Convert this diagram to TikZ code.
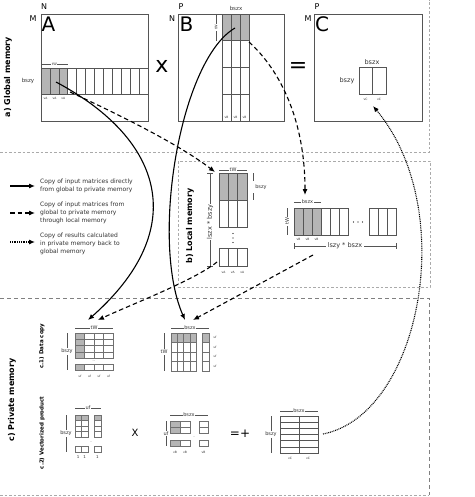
\documentclass[tikz,border=0pt]{standalone}
\usepackage{fontspec}
\setmainfont{DejaVu Sans}
\usetikzlibrary{arrows.meta}
\definecolor{gline}{HTML}{555555}
\definecolor{lgline}{HTML}{707070}
\definecolor{shd}{HTML}{B5B5B5}
\definecolor{reg}{HTML}{AAAAAA}
\definecolor{txt}{HTML}{333333}
\newcommand{\mygrid}[7][]{%
  \foreach \ii in {1,...,#4}{\foreach \jj in {1,...,#5}{%
    \draw[#1] ({#2+(\ii-1)*#6},{#3+(\jj-1)*#7}) rectangle ++(#6,#7);}}}
\tikzset{
  mat/.style={draw=gline, line width=0.7pt},
  cellg/.style={draw=gline, line width=0.6pt},
  celll/.style={draw=lgline, line width=0.5pt},
  region/.style={draw=reg, line width=0.7pt, dash pattern=on 2.5pt off 2pt},
  region2/.style={draw=gray, line width=0.8pt, dash pattern=on 4pt off 3pt},
  conn/.style={line width=1.1pt, -{Latex[length=6pt,width=5pt]}},
  solidc/.style={conn},
  dashc/.style={conn, dash pattern=on 4.5pt off 3pt},
  dotc/.style={conn, dash pattern=on 0.9pt off 0.9pt},
  dimline/.style={draw=gline, line width=0.5pt},
  big/.style={inner sep=0pt, font=\fontsize{20}{20}\selectfont},
  mid/.style={inner sep=0pt, font=\fontsize{8}{8}\selectfont},
  lbl/.style={inner sep=0pt, text=txt, font=\fontsize{5.5}{6}\selectfont},
  lblm/.style={inner sep=0pt, text=txt, font=\fontsize{6.5}{7}\selectfont},
  tiny/.style={inner sep=0pt, text=txt, font=\fontsize{3}{3.5}\selectfont},
  dimlab/.style={fill=white, inner sep=0.8pt, text=txt, font=\fontsize{5}{6}\selectfont},
  dimlabt/.style={fill=white, inner sep=0.6pt, text=txt, font=\fontsize{3.5}{4}\selectfont},
  sect/.style={inner sep=0pt, rotate=90, font=\bfseries\fontsize{8}{9}\selectfont},
  subsect/.style={inner sep=0pt, rotate=90, font=\bfseries\fontsize{5.5}{6}\selectfont},
  legtext/.style={inner sep=0pt, anchor=west, align=left, text=txt, font=\fontsize{6}{8}\selectfont},
}
\begin{document}
\begin{tikzpicture}[x=1pt,y=-1pt]
\useasboundingbox (0,0) rectangle (474,497);
\fill[white] (0,0) rectangle (474,497);
% region borders
\draw[region] (0,152) -- (429,152) -- (429,0);
\draw[region] (178,161) rectangle (430,287);
\draw[region2] (0,298) -- (429,298) -- (429,495);
\draw[region] (0,495) -- (429,495);

% section labels
\node[sect] (secA) at (8,77) {a) Global memory};
\node[sect] (secB) at (190,226) {b) Local memory};
\node[sect] (secC) at (12,400) {c) Private memory};
\node[subsect] (secC1) at (42,346) {c.1) Data copy};
\node[subsect] (secC2) at (42,433) {c.2) Vectorized product};

% ---------- Global A ----------
\draw[mat] (41,14) rectangle (148,121);
\fill[shd] (41,68) rectangle (67.75,94);
\mygrid[cellg]{41}{68}{12}{1}{8.9167}{26}
\node[mid] (NA) at (44,7) {N};
\node[mid] (MA) at (33,19) {M};
\node[big] (nameA) at (48.5,24.5) {A};
\draw[dimline] (41,64) -- (67.75,64) node[dimlabt, midway] (tWA) {tW};
\node[lbl] (bszyA) at (28,81) {bszy};
\foreach \i in {0,1,2} {\node[tiny] (vA\i) at ({45.5+\i*8.92},98) {vA};}
\node[inner sep=0pt, font=\fontsize{22}{22}\selectfont] (times1) at (162,66) {x};

% ---------- Global B ----------
\draw[mat] (178,14) rectangle (284,121);
\fill[shd] (222,14) rectangle (249,40.75);
\mygrid[cellg]{222}{14}{3}{4}{9}{26.75}
\node[mid] (PB) at (181,7) {P};
\node[mid] (NB) at (172,19) {N};
\node[big] (nameB) at (186.5,24.5) {B};
\node[lbl] (bszxB) at (236,8) {bszx};
\draw[dimline] (216,14) -- (216,41) node[dimlabt, midway, rotate=90] (tWB) {tW};
\foreach \i in {0,1,2} {\node[tiny] (vB\i) at ({226.5+\i*9},117) {vB};}
\node[inner sep=0pt, font=\fontsize{22}{22}\selectfont] (eq1) at (298,68) {=};

% ---------- Global C ----------
\draw[mat] (314,14) rectangle (422,121);
\draw[cellg] (359,67) rectangle (386,94);
\draw[cellg] (372.5,67) -- (372.5,94);
\node[mid] (PC) at (317,7) {P};
\node[mid] (MC) at (308,19) {M};
\node[big] (nameC) at (322,24.5) {C};
\node[lblm] (bszxC) at (372,62) {bszx};
\node[lblm] (bszyC) at (347,81) {bszy};
\node[tiny] (vC0) at (365.5,99) {vC};
\node[tiny] (vC1) at (379,99) {vC};

% ---------- Legend ----------
\coordinate (ls0) at (10,186); \coordinate (ls1) at (35,186);
\coordinate (ld0) at (10,213); \coordinate (ld1) at (35,213);
\coordinate (lo0) at (10,242); \coordinate (lo1) at (35,242);
\draw[solidc] (ls0) -- (ls1);
\draw[dashc] (ld0) -- (ld1);
\draw[dotc] (lo0) -- (lo1);
\node[legtext] (leg1) at (40,186) {Copy of input matrices directly\\from global to private memory};
\node[legtext] (leg2) at (40,212.5) {Copy of input matrices from\\global to private memory\\through local memory};
\node[legtext] (leg3) at (40,244) {Copy of results calculated\\in private memory back to\\global memory};

% ---------- Local memory: A stack ----------
\fill[shd] (219,173) rectangle (247,200);
\mygrid[cellg]{219}{173}{3}{2}{9.333}{27}
\mygrid[cellg]{219}{248}{3}{1}{9.333}{18}
\foreach \k in {0,1,2} {\fill[black] (233,{233.5+\k*4.5}) circle (0.6pt);}
\draw[dimline] (219,170) -- (247,170) node[dimlab, midway] (tWL) {tW};
\draw[dimline] (253,173) -- (253,181);
\draw[dimline] (253,193) -- (253,200);
\node[dimlab, fill=none] (bszyL) at (261,187) {bszy};
\draw[dimline] (210,173) -- (210,266);
\draw[dimline] (207,173) -- (213,173);
\draw[dimline] (207,266) -- (213,266);
\node[fill=white, inner sep=1pt, rotate=90, text=txt, font=\fontsize{6.5}{7}\selectfont] (lszxL) at (210,222) {lszx * bszy};
\foreach \i in {0,1,2} {\node[tiny] (vAL\i) at ({223.5+\i*9.33},272) {vA};}

% ---------- Local memory: B row ----------
\fill[shd] (294,208) rectangle (321,235);
\mygrid[cellg]{294}{208}{6}{1}{9}{27}
\mygrid[cellg]{369}{208}{3}{1}{9}{27}
\foreach \k in {0,1,2} {\fill[black] ({353.5+\k*4.5},222) circle (0.6pt);}
\draw[dimline] (294,202) -- (321,202) node[dimlab, midway] (bszxL) {bszx};
\draw[dimline] (287,208) -- (287,235) node[dimlab, midway, rotate=90] (tWL2) {tW};
\foreach \i in {0,1,2} {\node[tiny] (vBL\i) at ({298.5+\i*9},239) {vB};}
\draw[dimline, line width=0.8pt] (294,246) -- (396,246);
\draw[dimline, line width=0.8pt] (294,243) -- (294,249);
\draw[dimline, line width=0.8pt] (396,243) -- (396,249);
\node[fill=white, inner sep=1.5pt, text=txt, font=\fontsize{6.5}{7}\selectfont] (lszyL) at (345,246) {lszy * bszx};

% ---------- Private: data copy A ----------
\fill[shd] (75,333) rectangle (84.5,358);
\fill[shd] (75,364) rectangle (84.5,370);
\mygrid[celll]{75}{333}{4}{4}{9.5}{6.25}
\mygrid[celll]{75}{364}{4}{1}{9.5}{6}
\node[tiny] (dotsPA) at (94,361) {...};
\draw[dimline] (75,328) -- (113,328) node[dimlab, midway] (tWPA) {tW};
\draw[dimline] (67,333) -- (67,370) node[dimlab, midway] (bszyPA) {bszy};
\foreach \i in {0,1,2,3} {\node[tiny] (ufPA\i) at ({80+\i*9.5},376) {uf};}

% ---------- Private: data copy B ----------
\fill[shd] (171,333) rectangle (196,342.5);
\fill[shd] (202,333) rectangle (209,342.5);
\mygrid[celll]{171}{333}{4}{4}{6.25}{9.5}
\mygrid[celll]{202}{333}{1}{4}{7}{9.5}
\draw[dimline] (171,328) -- (209,328) node[dimlab, midway] (bszxPB) {bszx};
\draw[dimline] (164,333) -- (164,371) node[dimlab, midway] (tWPB) {tW};
\foreach \j in {0,1,2,3} {\node[tiny] (ufPB\j) at (215,{337.75+\j*9.5}) {uf};}

% ---------- Private: vectorized A ----------
\fill[shd] (75,415) rectangle (88,420.5);
\fill[shd] (94,415) rectangle (101,420.5);
\mygrid[celll]{75}{415}{2}{4}{6.5}{5.5}
\mygrid[celll]{94}{415}{1}{4}{7}{5.5}
\mygrid[celll]{75}{446}{2}{1}{6.5}{6}
\mygrid[celll]{94}{446}{1}{1}{7}{6}
\node[tiny] (dotsVA) at (91,442) {..};
\draw[dimline] (75,408) -- (101,408) node[dimlab, midway] (ufVA) {uf};
\draw[dimline] (66,415) -- (66,452) node[dimlab, midway] (bszyVA) {bszy};
\node[tiny, font=\fontsize{4}{4}\selectfont] (oneA) at (78.25,457) {1};
\node[tiny, font=\fontsize{4}{4}\selectfont] (oneB) at (84.75,457) {1};
\node[tiny, font=\fontsize{4}{4}\selectfont] (oneC) at (97.5,457) {1};
\node[inner sep=0pt, font=\fontsize{10}{10}\selectfont] (times2) at (135,433) {X};

% ---------- Private: vectorized B ----------
\fill[shd] (170,421) rectangle (180,433);
\fill[shd] (170,440) rectangle (180,446);
\mygrid[celll]{170}{421}{2}{2}{10}{6}
\mygrid[celll]{199}{421}{1}{2}{9}{6}
\mygrid[celll]{170}{440}{2}{1}{10}{6}
\mygrid[celll]{199}{440}{1}{1}{9}{6}
\node[tiny] (dotsVB) at (194,437) {..};
\draw[dimline] (170,415) -- (208,415) node[dimlab, midway] (bszxVB) {bszx};
\draw[dimline] (166,421) -- (166,446) node[dimlab, midway] (ufVB) {uf};
\node[tiny] (vBV0) at (175,452) {vB};
\node[tiny] (vBV1) at (185,452) {vB};
\node[tiny] (vBV2) at (203.5,452) {vB};
\node[inner sep=0pt, font=\fontsize{12}{12}\selectfont] (eqplus) at (240,434) {=+};

% ---------- Private: vectorized C ----------
\mygrid[cellg]{280}{416}{2}{6}{19}{6.1667}
\draw[dimline] (280,411) -- (318,411) node[dimlab, midway] (bszxVC) {bszx};
\draw[dimline] (271,416) -- (271,453) node[dimlab, midway] (bszyVC) {bszy};
\node[tiny] (vCV0) at (290,458) {vC};
\node[tiny] (vCV1) at (308,458) {vC};

% ---------- Connectors ----------
\coordinate (sA0) at (56,82);   \coordinate (sA1) at (88,320);
\coordinate (sB0) at (235,28);  \coordinate (sB1) at (185,320);
\coordinate (dA0) at (70,92);   \coordinate (dA1) at (215,172);
\coordinate (dB0) at (249,42);  \coordinate (dB1) at (305,195);
\coordinate (dL0) at (217,262); \coordinate (dL1) at (98,320);
\coordinate (dR0) at (313,255); \coordinate (dR1) at (193,320);
\coordinate (oC0) at (323,434); \coordinate (oC1) at (373,106);
\draw[solidc] (sA0) .. controls (165,140) and (190,230) .. (sA1);
\draw[solidc] (sB0) .. controls (180,60) and (150,240) .. (sB1);
\draw[dashc] (dA0) .. controls (120,115) and (180,145) .. (dA1);
\draw[dashc] (dB0) .. controls (280,70) and (305,120) .. (dB1);
\draw[dashc] (dL0) .. controls (195,280) and (130,305) .. (dL1);
\draw[dashc] (dR0) -- (dR1);
\draw[dotc] (oC0) .. controls (420,415) and (460,210) .. (oC1);
\end{tikzpicture}
\end{document}
